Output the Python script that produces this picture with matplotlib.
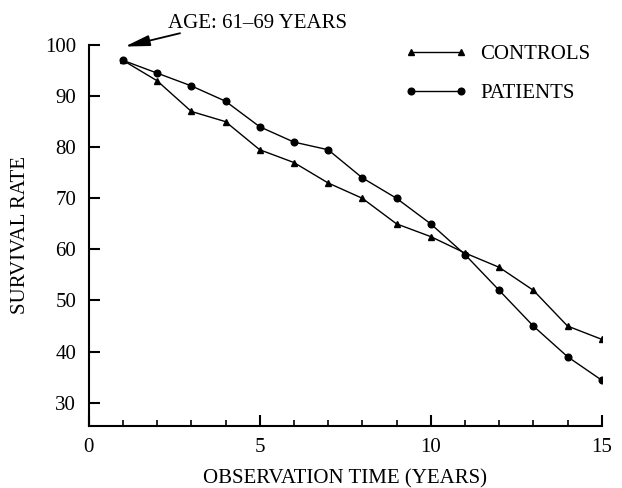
import matplotlib
matplotlib.use('Agg')
import matplotlib.pyplot as plt

plt.rcParams['font.family'] = 'Liberation Serif'

years = [1, 2, 3, 4, 5, 6, 7, 8, 9, 10, 11, 12, 13, 14, 15]
controls = [97, 93, 87, 85, 79.5, 77, 73, 70, 65, 62.5, 59.3, 56.5, 52, 45, 42.4]
patients = [97, 94.5, 92, 89, 84, 81, 79.5, 74, 70, 65, 59, 52, 45, 39, 34.4]

fig = plt.figure(figsize=(6.22, 4.88), dpi=100)
ax = fig.add_axes([0.1426, 0.1277, 0.8248, 0.7801])

ax.plot(years, controls, color='black', lw=1.0, marker='^', ms=4.5, label='CONTROLS')
ax.plot(years, patients, color='black', lw=1.0, marker='o', ms=4.8, label='PATIENTS')

ax.set_xlim(0, 15)
ax.set_ylim(25.5, 100)
ax.set_xticks([0, 5, 10, 15])
ax.set_xticks(range(16), minor=True)
ax.set_yticks(range(30, 101, 10))

for s in ['top', 'right']:
    ax.spines[s].set_visible(False)
for s in ['left', 'bottom']:
    ax.spines[s].set_linewidth(1.5)

ax.tick_params(axis='both', which='major', direction='in', length=8, width=1.5,
               labelsize=15, pad=9)
ax.tick_params(axis='x', which='minor', direction='in', length=4, width=1.2)
ax.tick_params(axis='y', which='minor', left=False)

ax.set_xlabel('OBSERVATION TIME (YEARS)', fontsize=15, labelpad=9)
ax.set_ylabel('SURVIVAL RATE', fontsize=15, labelpad=11)

ax.text(2.32, 104.3, 'AGE: 61–69 YEARS', fontsize=15, va='center', ha='left',
        clip_on=False)
ax.annotate('', xy=(1.06, 99.7), xytext=(2.67, 102.3), annotation_clip=False,
            arrowprops=dict(arrowstyle='-|>,head_length=1.0,head_width=0.22',
                            mutation_scale=15, color='black', lw=1.3,
                            shrinkA=0, shrinkB=0))

ax.legend(loc='upper left', bbox_to_anchor=(0.579, 1.051), frameon=False, fontsize=15,
          numpoints=2, handlelength=3.0, handletextpad=0.64, labelspacing=0.94)

fig.savefig('out.png', dpi=100)
